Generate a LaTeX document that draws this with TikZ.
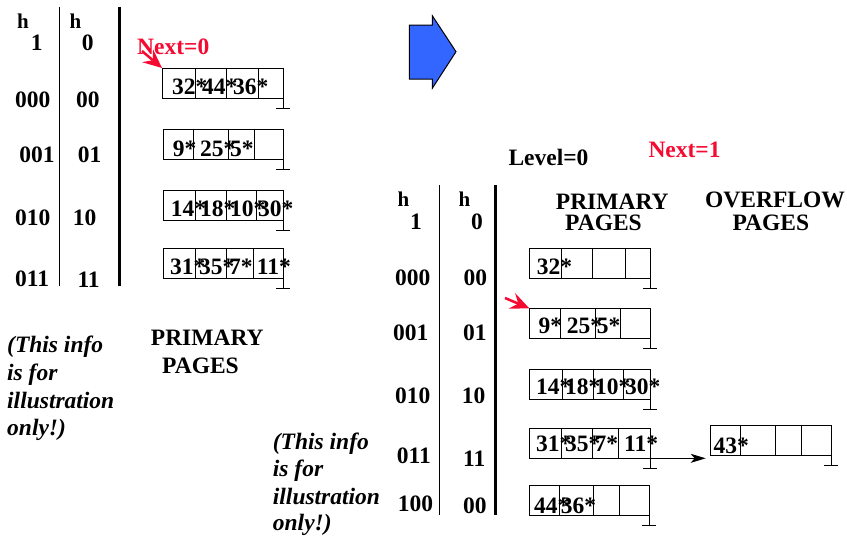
\documentclass[tikz,border=0pt]{standalone}
\usepackage{fontspec}
\setmainfont{Liberation Serif}
\usetikzlibrary{arrows.meta}
\definecolor{nextred}{RGB}{245,10,50}
\definecolor{stepblue}{RGB}{51,102,255}

\tikzset{
  lbl/.style={font=\fontsize{23.5}{28}\selectfont\bfseries, inner sep=0pt, anchor=base west},
  hlbl/.style={font=\fontsize{21}{24}\selectfont\bfseries, inner sep=0pt, anchor=base west},
  note/.style={font=\fontsize{23.5}{28}\selectfont\bfseries\itshape, inner sep=0pt, anchor=base west},
  redlbl/.style={lbl, text=nextred},
  cell/.style={draw, line width=0.8pt},
  ground/.style={line width=0.9pt},
  thinsep/.style={line width=1.2pt},
  thicksep/.style={line width=2.6pt},
  nextptr/.style={draw=nextred, fill=nextred, line width=2.5pt,
    -{Stealth[length=19pt,width=17pt,inset=7pt,line width=0pt]}},
  chain/.style={line width=0.9pt, -{Stealth[length=15pt,width=9pt,inset=4pt]}},
}

% a page of four slots: name, left x, top y, right x, slot dividers
\newcommand\bucketbox[5]{%
  \coordinate (#1-nw) at (#2,#3);
  \coordinate (#1-se) at (#4,#3+30);
  \draw[cell] (#1-nw) rectangle (#1-se);
  \foreach \d in {#5} \draw[cell] (\d,#3) -- (\d,#3+30);
  \draw[ground] (#4,#3+22) -- (#4,#3+40) (#4-7,#3+40) -- (#4+7,#3+40);
}
% the data entries of a page: name, baseline y, list of x/text
\newcommand\bucketentries[3]{%
  \foreach \ex/\et [count=\i] in {#3}
    \node[lbl] (#1-e\i) at (\ex,#2) {\et};
}

\begin{document}
\begin{tikzpicture}[x=1pt,y=-1pt]
\useasboundingbox (0,0) rectangle (847,539);

% ---------- before the split ----------
\draw[thinsep] (59.3,6.7) coordinate (ls1t) -- (59.3,286) coordinate (ls1b);
\draw[thicksep] (119.3,6.7) coordinate (ls2t) -- (119.3,286) coordinate (ls2b);

\node[hlbl] (lh1) at (17,28.3) {h};
\node[lbl] (lh1i) at (30.7,50) {1};
\node[hlbl] (lh0) at (69.5,28.3) {h};
\node[lbl] (lh0i) at (81.7,50) {0};

\node[lbl] (la000) at (15,107.3) {000};
\node[lbl] (lb00)  at (76,107.3) {00};
\node[lbl] (la001) at (19.3,162.3) {001};
\node[lbl] (lb01)  at (77.7,162.7) {01};
\node[lbl] (la010) at (15,225.7) {010};
\node[lbl] (lb10)  at (72.7,225.7) {10};
\node[lbl] (la011) at (15,286) {011};
\node[lbl] (lb11)  at (77.3,287.3) {11};

\bucketbox{L1}{162}{68}{283}{195.7,226.7,258.3}
\bucketentries{L1}{94}{172/32*,202/44*,233/36*}
\bucketbox{L2}{163}{129.3}{283}{193,228,254}
\bucketentries{L2}{156}{172.7/9*,200/25*,230/5*}
\bucketbox{L3}{163}{190.7}{283}{195,226.7,256}
\bucketentries{L3}{216}{170.7/14*,200/18*,230/10*,258/30*}
\bucketbox{L4}{163}{248.3}{283}{195,226,253}
\bucketentries{L4}{274}{170/31*,199/35*,229/7*,256.7/11*}

\node[redlbl] (next0) at (137,54) {Next=0};
\coordinate (n0tail) at (142,51);
\draw[nextptr] (n0tail) -- (L1-nw);

\node[lbl] (lprim) at (150.7,345) {PRIMARY};
\node[lbl] (lpages) at (162,373) {PAGES};

\node[note] (ln1) at (7,352) {(This info};
\node[note] (ln2) at (7,380) {is for};
\node[note] (ln3) at (7,408) {illustration};
\node[note] (ln4) at (7,435) {only!)};

% ---------- step arrow ----------
\draw[fill=stepblue, line width=1pt, line join=miter]
  (409.3,25) -- (432.3,25) -- (432.3,15.7) -- (456,51.7) -- (432.3,88.3)
  -- (432.3,79) -- (409.3,79) -- cycle;

% ---------- after the split ----------
\node[lbl] (level) at (508.3,165) {Level=0};
\node[redlbl] (next1) at (648.3,157.3) {Next=1};

\draw[thinsep] (439.3,185) coordinate (rs1t) -- (439.3,515) coordinate (rs1b);
\draw[thicksep] (495.3,185) coordinate (rs2t) -- (495.3,515) coordinate (rs2b);

\node[hlbl] (rh1) at (397.5,206.7) {h};
\node[lbl] (rh1i) at (410,229.3) {1};
\node[hlbl] (rh0) at (458.5,206.7) {h};
\node[lbl] (rh0i) at (471,229.3) {0};

\node[lbl] (ra000) at (395,285) {000};
\node[lbl] (rb00)  at (463.3,285) {00};
\node[lbl] (ra001) at (393,340.7) {001};
\node[lbl] (rb01)  at (463,340.7) {01};
\node[lbl] (ra010) at (395,403) {010};
\node[lbl] (rb10)  at (461.7,403) {10};
\node[lbl] (ra011) at (396.7,463) {011};
\node[lbl] (rb11)  at (463,466) {11};
\node[lbl] (ra100) at (397.7,511.7) {100};
\node[lbl] (rb00b) at (463,513) {00};

\node[lbl] (rprim) at (555.7,209.5) {PRIMARY};
\node[lbl] (rpages) at (565,230.7) {PAGES};
\node[lbl] (over) at (705,207.3) {OVERFLOW};
\node[lbl] (opages) at (732.3,230.7) {PAGES};

\bucketbox{RA}{529.3}{248.3}{650}{561.7,592.7,625.7}
\bucketentries{RA}{274}{536.7/32*}
\bucketbox{RB}{529.3}{308.3}{650}{560,595,620}
\bucketentries{RB}{333.3}{538.3/9*,566.7/25*,596.7/5*}
\bucketbox{RC}{529.3}{369.3}{650}{562.3,593.3,623.3}
\bucketentries{RC}{394.3}{536/14*,565/18*,595/10*,625/30*}
\bucketbox{RD}{529.3}{428.3}{650}{561.7,592.3,618.3}
\bucketentries{RD}{451.7}{536/31*,565/35*,594.3/7*,624/11*}
\bucketbox{RE}{529.3}{485}{649.3}{559.3,593.3,619.3}
\bucketentries{RE}{513.3}{534/44*,560.7/36*}
\bucketbox{OV}{710.7}{425}{831}{740.7,775.7,801.7}
\bucketentries{OV}{453.3}{713.3/43*}

\coordinate (n1tail) at (505,298);
\draw[nextptr] (n1tail) -- (RB-nw);

\draw[chain, shorten >=5pt] (RD-se) -- (RD-se -| OV-nw);

\node[note] (rn1) at (272.7,449) {(This info};
\node[note] (rn2) at (272.7,476.7) {is for};
\node[note] (rn3) at (272.7,504) {illustration};
\node[note] (rn4) at (272.7,530) {only!)};
\end{tikzpicture}
\end{document}
